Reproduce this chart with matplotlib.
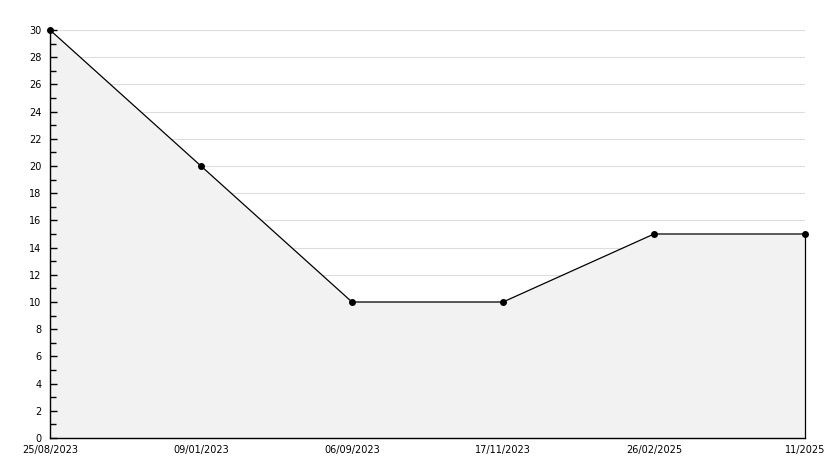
import numpy as np
import matplotlib.pyplot as plt
from matplotlib.ticker import MultipleLocator

# Data
dates = ['25/08/2023', '09/01/2023', '06/09/2023', '17/11/2023', '26/02/2025', '11/2025']
values = [30, 20, 10, 10, 15, 15]

x = np.arange(len(dates))

fig = plt.figure(figsize=(8.34, 4.68), dpi=100)
ax = fig.add_axes([50/834, 30/468, 755/834, 408/468])

# horizontal grid lines sit behind the filled area
for yv in np.arange(2, 31, 2):
    ax.axhline(yv, color='#dddddd', linewidth=0.8, zorder=0.2)

ax.fill_between(x, values, 0, color='#f2f2f2', linewidth=0, zorder=1)
ax.plot(x, values, color='black', linewidth=0.9, marker='o', markersize=4,
        zorder=3, clip_on=False)
# closing edge of the filled area on the right
ax.plot([x[-1], x[-1]], [0, values[-1]], color='black', linewidth=0.9,
        zorder=3, clip_on=False)

ax.set_xlim(x[0], x[-1])
ax.set_ylim(0, 30)
ax.set_xticks(x)
ax.set_xticklabels(dates)
ax.yaxis.set_major_locator(MultipleLocator(2))
ax.yaxis.set_minor_locator(MultipleLocator(1))

for side in ['top', 'right']:
    ax.spines[side].set_visible(False)
for side in ['left', 'bottom']:
    ax.spines[side].set_linewidth(1.0)
    ax.spines[side].set_zorder(4)

ax.tick_params(axis='y', which='major', direction='in', length=5, width=1, labelsize=7, pad=6)
ax.tick_params(axis='y', which='minor', direction='in', length=4, width=1)
ax.tick_params(axis='x', which='both', length=0, labelsize=7, pad=5)

plt.savefig('out.png', dpi=100)
